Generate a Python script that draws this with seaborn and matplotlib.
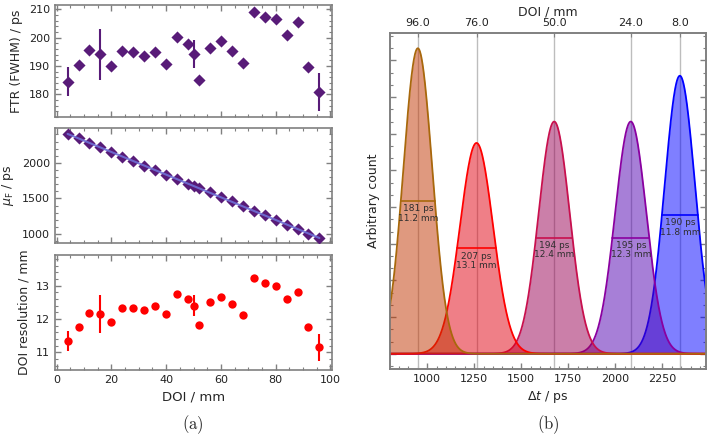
import numpy as np
import pandas as pd
import seaborn as sns
import matplotlib
matplotlib.use("Agg")
from matplotlib import pyplot as plt
from matplotlib.ticker import MultipleLocator, NullFormatter

# --- data ---
doi = [4, 8, 12, 16, 20, 24, 28, 32, 36, 40, 44, 48, 50, 52,
       56, 60, 64, 68, 72, 76, 80, 84, 88, 92, 96]
ftr = [184.5, 190.3, 195.6, 194.2, 190.0, 195.4, 194.9, 193.4, 194.9, 190.7,
       200.2, 197.6, 194.2, 185.2, 196.3, 198.8, 195.3, 191.0, 209.0, 207.1,
       206.5, 201.0, 205.5, 189.8, 180.8]
ftr_err = [5.0, 0.8, 0.8, 9.0, 0.8, 0.8, 0.8, 0.8, 0.8, 0.8,
           0.8, 0.8, 5.0, 0.8, 0.8, 0.8, 0.8, 0.8, 0.8, 0.8,
           0.8, 0.8, 0.8, 0.8, 6.7]
mu = [2411, 2343, 2280, 2220, 2154, 2082, 2023, 1963, 1897, 1832,
      1771, 1705, 1675, 1645, 1589, 1523, 1458, 1393, 1327, 1262,
      1196, 1131, 1070, 1005, 950]
mu_err = [6] * 25
res = [11.34, 11.76, 12.17, 12.15, 11.92, 12.33, 12.32, 12.26, 12.40, 12.15,
       12.76, 12.61, 12.40, 11.81, 12.52, 12.67, 12.44, 12.13, 13.22, 13.07,
       13.00, 12.59, 12.81, 11.76, 11.15]
res_err = [0.31, 0.05, 0.05, 0.58, 0.05, 0.05, 0.05, 0.05, 0.05, 0.05,
           0.05, 0.05, 0.32, 0.05, 0.05, 0.05, 0.05, 0.05, 0.05, 0.05,
           0.05, 0.05, 0.05, 0.05, 0.40]

# panel (b): selected positions, drawn in this order
peak_doi = [8, 24, 50, 76, 96]
peak_height = [0.91, 0.76, 0.76, 0.69, 1.0]
edge_colors = ['#0000ff', '#8a00a0', '#c8104e', '#ff0000', '#a8680c']
fill_colors = ['#0000ff', '#5100b1', '#990055', '#e10111', '#c13500']

df = pd.DataFrame({'doi': doi, 'ftr': ftr, 'ftr_err': ftr_err, 'mu': mu,
                   'mu_err': mu_err, 'res': res, 'res_err': res_err})

sns.set_style("ticks", {"xtick.direction": "in", "ytick.direction": "in",
                        "axes.edgecolor": "#808080"})
plt.rcParams['font.family'] = ['DejaVu Sans']
plt.rcParams['axes.linewidth'] = 1.2

purple = '#581b78'
gray = '#808080'
W, H = 708, 438
fig = plt.figure(figsize=(7.08, 4.38), dpi=100)


def box(l, r, t, b):
    return [l / W, 1 - b / H, (r - l) / W, (b - t) / H]


a1 = fig.add_axes(box(55, 332, 5, 117))
a2 = fig.add_axes(box(55, 332, 128, 243))
a3 = fig.add_axes(box(55, 332, 255, 370))
ab = fig.add_axes(box(390, 706, 33, 369))

# --- left column ---
a1.errorbar(df.doi, df.ftr, yerr=df.ftr_err, fmt='none', ecolor=purple, elinewidth=1.5)
sns.scatterplot(data=df, x='doi', y='ftr', ax=a1, marker='D', s=38, color=purple,
                edgecolor=purple, linewidth=0, zorder=3)
a1.set_ylim(172, 211.5)
a1.yaxis.set_major_locator(MultipleLocator(10))
a1.yaxis.set_minor_locator(MultipleLocator(2))
a1.set_ylabel('FTR (FWHM) / ps')

a2.errorbar(df.doi, df.mu, yerr=df.mu_err, fmt='none', ecolor=purple, elinewidth=1.2)
sns.scatterplot(data=df, x='doi', y='mu', ax=a2, marker='D', s=38, color=purple,
                edgecolor=purple, linewidth=0, zorder=3)
sns.regplot(data=df, x='doi', y='mu', ax=a2, scatter=False, ci=None,
            line_kws={'color': '#6f6fd6', 'lw': 1.5, 'alpha': 0.9, 'zorder': 4})
a2.set_ylim(875, 2490)
a2.yaxis.set_major_locator(MultipleLocator(500))
a2.yaxis.set_minor_locator(MultipleLocator(100))
a2.set_ylabel(r'$\mu_\mathrm{F}$ / ps')

a3.errorbar(df.doi, df.res, yerr=df.res_err, fmt='none', ecolor='red', elinewidth=1.5)
sns.scatterplot(data=df, x='doi', y='res', ax=a3, marker='o', s=36, color='red',
                edgecolor='red', linewidth=0, zorder=3)
a3.set_ylim(10.47, 13.92)
a3.yaxis.set_major_locator(MultipleLocator(1))
a3.yaxis.set_minor_locator(MultipleLocator(0.2))
a3.set_ylabel('DOI resolution / mm')
a3.set_xlabel('DOI / mm', fontsize=9.5)

for ax in (a1, a2, a3):
    ax.set_xlim(-0.6, 100.6)
    ax.xaxis.set_major_locator(MultipleLocator(20))
    ax.xaxis.set_minor_locator(MultipleLocator(5))
    ax.tick_params(which='both', top=True, right=True, color=gray, labelsize=8,
                   labelcolor='#222222')
    ax.tick_params(which='major', length=4, width=1)
    ax.tick_params(which='minor', length=2, width=0.8)
    ax.yaxis.label.set_size(9)
    for s in ax.spines.values():
        s.set_color(gray)
for ax in (a1, a2):
    ax.set_xlabel('')
    ax.xaxis.set_major_formatter(NullFormatter())
fig.align_ylabels([a1, a2, a3])

# --- right panel: timing spectra ---
t = np.linspace(780, 2500, 1200)
centers, labels = [], []
for k, d in enumerate(peak_doi):
    i = doi.index(d)
    c, fwhm, h = mu[i], ftr[i], peak_height[k]
    sig = fwhm / (2 * np.sqrt(2 * np.log(2)))
    y = h * np.exp(-0.5 * ((t - c) / sig) ** 2)
    z = 2 + k
    ab.axvline(c, color='#bdbdbd', lw=1, zorder=1)
    ab.fill_between(t, 0, y, color=fill_colors[k], alpha=0.5, lw=0, zorder=z)
    ab.plot(t, y, color=edge_colors[k], lw=1.3, zorder=z + 0.5)
    ab.plot([c - fwhm / 2, c + fwhm / 2], [h / 2, h / 2], color=edge_colors[k],
            lw=1.2, zorder=z + 0.5)
    ab.annotate(f'{fwhm:.0f} ps\n{res[i]:.1f} mm', xy=(c, h / 2), xytext=(0, -2.5),
                textcoords='offset points', ha='center', va='top', fontsize=6.5,
                color='#2e2e2e', linespacing=1.05, zorder=20)
    centers.append(c)
    labels.append(f'{d:.1f}')

ab.set_xlim(802, 2482)
ab.set_ylim(-0.05, 1.05)
ab.xaxis.set_major_locator(MultipleLocator(250))
ab.xaxis.set_minor_locator(MultipleLocator(50))
ab.yaxis.set_major_locator(MultipleLocator(0.12))
ab.yaxis.set_minor_locator(MultipleLocator(0.04))
ab.yaxis.set_major_formatter(NullFormatter())
ab.tick_params(which='both', right=True, color=gray, labelsize=8, labelcolor='#222222')
ab.tick_params(which='major', length=4, width=1)
ab.tick_params(which='minor', length=2, width=0.8)
ab.set_xlabel(r'$\Delta t$ / ps', fontsize=9)
ab.set_ylabel('Arbitrary count', fontsize=9)
for s in ab.spines.values():
    s.set_color(gray)

top = ab.twiny()
top.set_xlim(ab.get_xlim())
top.set_xticks(centers)
top.set_xticklabels(labels)
top.tick_params(direction='in', color=gray, labelsize=8, labelcolor='#222222', length=3)
top.set_xlabel('DOI / mm', fontsize=9, labelpad=2)
for s in top.spines.values():
    s.set_color(gray)

fig.text(193 / W, 1 - 425 / H, r'$\mathrm{(a)}$', math_fontfamily='cm', fontsize=12,
         ha='center', va='center')
fig.text(548 / W, 1 - 425 / H, r'$\mathrm{(b)}$', math_fontfamily='cm', fontsize=12,
         ha='center', va='center')

fig.savefig('out.png', dpi=100)
